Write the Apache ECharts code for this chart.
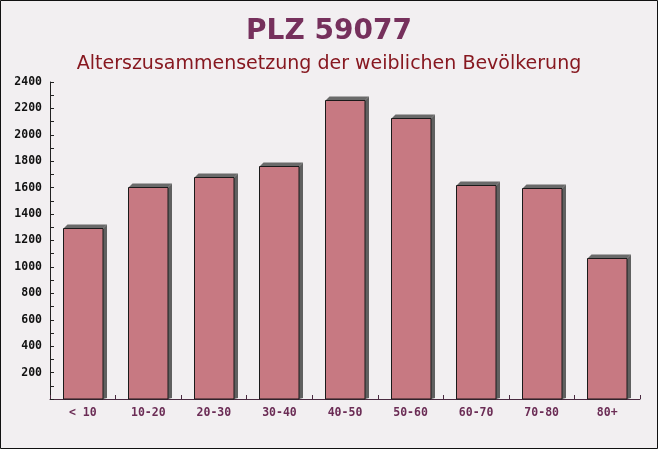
<!DOCTYPE html>
<html>
<head>
<meta charset="utf-8">
<script src="https://cdn.jsdelivr.net/npm/echarts@6/dist/echarts.min.js"></script>
<style>
html,body{margin:0;padding:0;background:#f2eff1;}
#c{width:658px;height:449px;}
</style>
</head>
<body>
<div id="c"></div>
<script>
const titleText = 'PLZ 59077';
const subtitleText = 'Alterszusammensetzung der weiblichen Bevölkerung';
const categories = ['< 10', '10-20', '20-30', '30-40', '40-50', '50-60', '60-70', '70-80', '80+'];
const values = [1297, 1605, 1681, 1762, 2261, 2125, 1620, 1598, 1065];
const yMin = 0, yMax = 2400, yStep = 200;

const chart = echarts.init(document.getElementById('c'), null, {renderer: 'canvas'});
const depth = 4;
const option = {
  backgroundColor: '#f2eff1',
  animation: false,
  title: [
    {text: titleText, left: 'center', top: 13,
     textStyle: {fontFamily: 'DejaVu Sans', fontWeight: 'bold', fontSize: 28, color: '#76305c'}},
    {text: subtitleText, left: 'center', top: 50,
     textStyle: {fontFamily: 'DejaVu Sans', fontWeight: 'normal', fontSize: 19, color: '#871820'}}
  ],
  graphic: [{
    type: 'rect', silent: true, z: 100,
    shape: {x: 0.5, y: 0.5, width: 657, height: 448},
    style: {fill: 'none', stroke: '#111', lineWidth: 1}
  }],
  grid: {left: 50, right: 18, top: 82, bottom: 50, containLabel: false},
  xAxis: {
    type: 'category', data: categories,
    axisLine: {show: true, lineStyle: {color: '#4a2a40', width: 1}},
    axisTick: {show: true, inside: true, length: 4, alignWithLabel: false, lineStyle: {color: '#4a2a40'}},
    axisLabel: {fontFamily: 'DejaVu Sans Mono', fontWeight: 'bold', fontSize: 11.5, color: '#6b2c55', margin: 8}
  },
  yAxis: {
    type: 'value', min: yMin, max: yMax, interval: yStep,
    axisLine: {show: true, lineStyle: {color: '#222', width: 1}},
    axisTick: {show: true, inside: true, length: 4, lineStyle: {color: '#222'}},
    minorTick: {show: true, splitNumber: 2, length: 4, lineStyle: {color: '#222'}},
    splitLine: {show: false},
    axisLabel: {fontFamily: 'DejaVu Sans Mono', fontWeight: 'bold', fontSize: 11.5, color: '#111', margin: 8,
      formatter: v => v === 0 ? '' : String(v)}
  },
  series: [{
    type: 'custom',
    data: values.map((v, i) => [i, v]),
    encode: {x: 0, y: 1},
    renderItem: function (params, api) {
      const i = api.value(0), v = api.value(1);
      const top = api.coord([i, v]);
      const base = api.coord([i, 0]);
      const w = api.size([1, 0])[0] * 0.61;
      const l = Math.round(top[0] - w / 2) + 0.5, r = Math.round(l + w);
      const t = Math.round(top[1]) + 0.5, b = base[1];
      return {
        type: 'group',
        children: [
          {type: 'polygon', shape: {points: [[r, t], [r + depth, t - depth], [r + depth, b - 1], [r, b]]},
           style: {fill: '#606060'}},
          {type: 'polygon', shape: {points: [[l, t], [l + depth, t - depth], [r + depth, t - depth], [r, t]]},
           style: {fill: '#6a6a6a'}},
          {type: 'rect', shape: {x: l, y: t, width: r - l, height: b - t},
           style: {fill: 'rgba(184,82,92,0.75)', stroke: '#1a1a1a', lineWidth: 1}}
        ]
      };
    }
  }]
};
chart.setOption(option);
</script>
</body>
</html>
